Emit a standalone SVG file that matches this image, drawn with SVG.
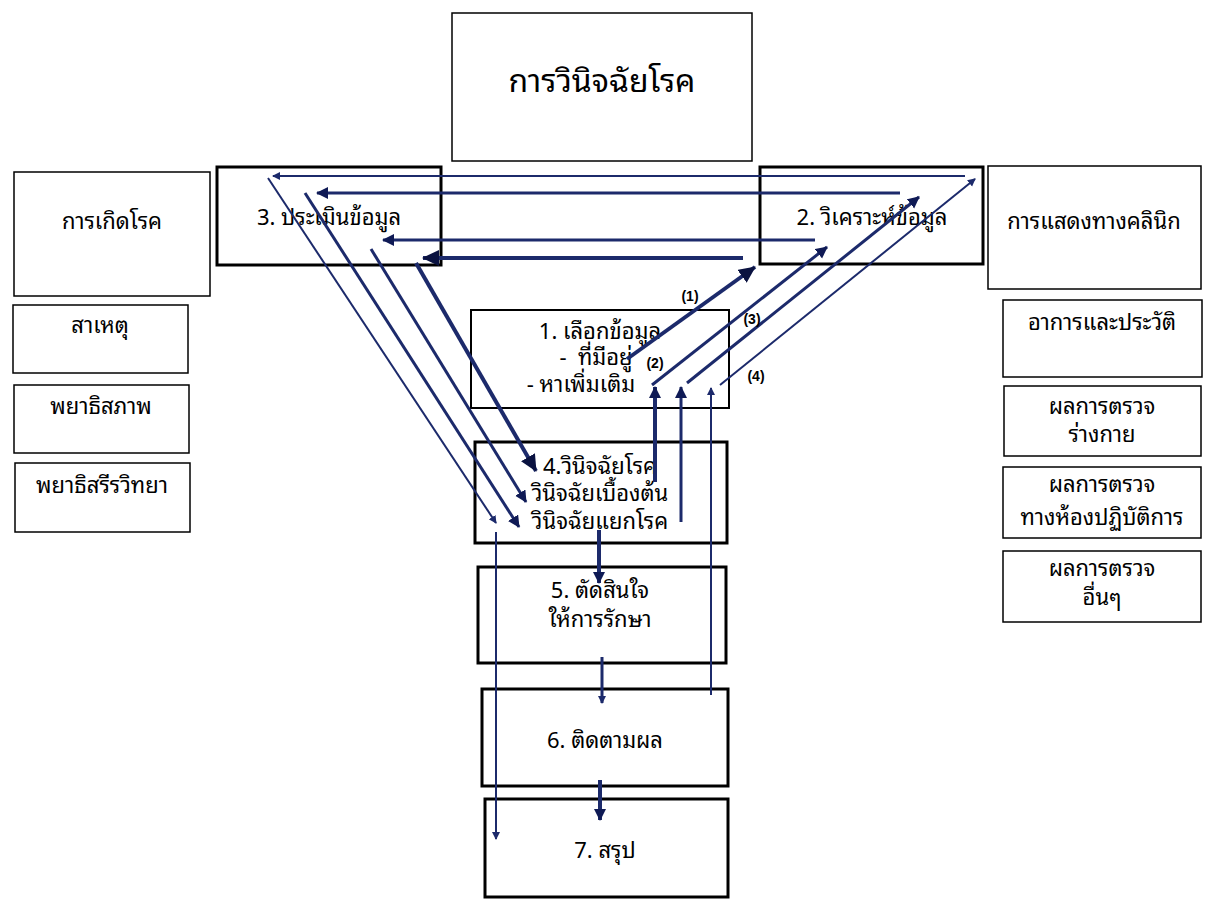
<svg xmlns="http://www.w3.org/2000/svg" width="1208" height="900" viewBox="0 0 1208 900">
<style>
text{font-family:"Noto Sans Thai Looped","Noto Sans Thai","Noto Sans",sans-serif;fill:#000;text-anchor:middle;font-size:22px}
.thin{fill:#fff;stroke:#000;stroke-width:1.5}
.thick{fill:#fff;stroke:#000;stroke-width:3}
.mid{fill:#fff;stroke:#000;stroke-width:2}
.c{stroke:#1c2a6b;fill:none}
.s{stroke-width:2}
.m{stroke-width:3}
.l{stroke-width:4}
.lbl{font-size:14px;font-weight:bold;font-family:"Liberation Sans",sans-serif}
</style>
<defs>
<marker id="aS" markerUnits="userSpaceOnUse" markerWidth="10" markerHeight="10" refX="7" refY="4" orient="auto"><path d="M0,0 L8,4 L0,8 z" fill="#1c2a6b"/></marker>
<marker id="aM" markerUnits="userSpaceOnUse" markerWidth="16" markerHeight="16" refX="11" refY="6" orient="auto"><path d="M0,0 L12,6 L0,12 z" fill="#0f1a55"/></marker>
<marker id="aL" markerUnits="userSpaceOnUse" markerWidth="22" markerHeight="22" refX="16" refY="8" orient="auto"><path d="M0,0 L17,8 L0,16 z" fill="#0a1240"/></marker>
</defs>

<g id="title"><rect class="thin" x="452" y="13" width="300" height="148"/><text x="602" y="92" style="font-size:32px">การวินิจฉัยโรค</text></g>

<g id="n-onset"><rect class="thin" x="14" y="172" width="196" height="124"/><text x="112" y="229">การเกิดโรค</text></g>
<g id="n-cause"><rect class="thin" x="13" y="305" width="175" height="68"/><text x="100" y="333">สาเหตุ</text></g>
<g id="n-patho"><rect class="thin" x="14" y="385" width="175" height="68"/><text x="101" y="414">พยาธิสภาพ</text></g>
<g id="n-physio"><rect class="thin" x="15" y="463" width="175" height="69"/><text x="102" y="493">พยาธิสรีรวิทยา</text></g>

<g id="n-clinical"><rect class="thin" x="988" y="166" width="213" height="123"/><text x="1094" y="229">การแสดงทางคลินิก</text></g>
<g id="n-history"><rect class="thin" x="1003" y="300" width="199" height="77"/><text x="1102" y="330">อาการและประวัติ</text></g>
<g id="n-physical"><rect class="thin" x="1004" y="386" width="197" height="70"/><text x="1102" y="414">ผลการตรวจ</text><text x="1102" y="442">ร่างกาย</text></g>
<g id="n-lab"><rect class="thin" x="1003" y="467" width="198" height="71"/><text x="1102" y="492">ผลการตรวจ</text><text x="1102" y="525">ทางห้องปฏิบัติการ</text></g>
<g id="n-other"><rect class="thin" x="1003" y="551" width="198" height="71"/><text x="1102" y="576">ผลการตรวจ</text><text x="1102" y="605">อื่นๆ</text></g>

<g id="n3"><rect class="thick" x="217" y="167" width="224" height="98"/><text x="329" y="225">3. ประเมินข้อมูล</text></g>
<g id="n2"><rect class="thick" x="760" y="167" width="223" height="97"/><text x="872" y="225">2. วิเคราะห์ข้อมูล</text></g>
<g id="n1"><rect class="mid" x="471" y="310" width="258" height="98"/><text x="600" y="339">1. เลือกข้อมูล</text><text x="596" y="365" xml:space="preserve">-  ที่มีอยู่</text><text x="581" y="392">- หาเพิ่มเติม</text></g>
<g id="n4"><rect class="thick" x="475" y="442" width="252" height="101"/><text x="600" y="474">4.วินิจฉัยโรค</text><text x="600" y="501">วินิจฉัยเบื้องต้น</text><text x="600" y="529">วินิจฉัยแยกโรค</text></g>
<g id="n5"><rect class="thick" x="478" y="567" width="248" height="96"/><text x="600" y="598">5. ตัดสินใจ</text><text x="600" y="627">ให้การรักษา</text></g>
<g id="n6"><rect class="thick" x="482" y="689" width="246" height="97"/><text x="605" y="748">6. ติดตามผล</text></g>
<g id="n7"><rect class="thick" x="485" y="799" width="243" height="98"/><text x="605" y="858">7. สรุป</text></g>

<g id="connectors">
<line class="c s" x1="965" y1="176" x2="273" y2="176" marker-end="url(#aS)"/>
<line class="c m" x1="900" y1="193" x2="317" y2="193" marker-end="url(#aM)"/>
<line class="c m" x1="815" y1="240" x2="383" y2="240" marker-end="url(#aM)"/>
<line class="c l" x1="743" y1="258" x2="423" y2="258" marker-end="url(#aL)"/>

<line class="c s" x1="268" y1="178" x2="496" y2="523" marker-end="url(#aS)"/>
<line class="c m" x1="305" y1="193" x2="519" y2="527" marker-end="url(#aM)"/>
<line class="c m" x1="371" y1="249" x2="526" y2="502" marker-end="url(#aM)"/>
<line class="c l" x1="416" y1="263" x2="536" y2="471" marker-end="url(#aL)"/>

<line class="c l" x1="627" y1="359" x2="755" y2="267" marker-end="url(#aL)"/>
<line class="c m" x1="652" y1="385" x2="827" y2="247" marker-end="url(#aM)"/>
<line class="c m" x1="687" y1="383" x2="919" y2="197" marker-end="url(#aM)"/>
<line class="c s" x1="720" y1="385" x2="975" y2="179" marker-end="url(#aS)"/>

<line class="c l" x1="655" y1="482" x2="655" y2="387" marker-end="url(#aM)"/>
<line class="c m" x1="681" y1="522" x2="681" y2="387" marker-end="url(#aM)"/>
<line class="c s" x1="711" y1="695" x2="711" y2="388" marker-end="url(#aS)"/>

<line class="c l" x1="599" y1="530" x2="599" y2="583" marker-end="url(#aM)"/>
<line class="c m" x1="602" y1="657" x2="602" y2="703" marker-end="url(#aS)"/>
<line class="c l" x1="600" y1="780" x2="600" y2="820" marker-end="url(#aM)"/>
<line class="c s" x1="496" y1="532" x2="496" y2="839" marker-end="url(#aS)"/>

<text class="lbl" x="690" y="301">(1)</text>
<text class="lbl" x="655" y="368">(2)</text>
<text class="lbl" x="752" y="324">(3)</text>
<text class="lbl" x="756" y="381">(4)</text>
</g>
</svg>
